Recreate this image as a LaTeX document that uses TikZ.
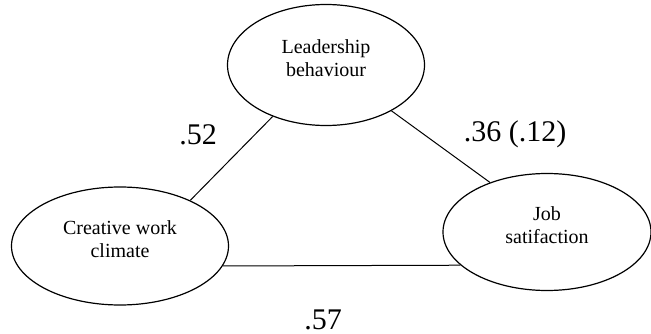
\documentclass[tikz,border=0pt]{standalone}
\usepackage{fontspec}
\setmainfont{Liberation Serif}
\usetikzlibrary{shapes.geometric}
\begin{document}
\begin{tikzpicture}[x=1pt,y=-1pt,
  construct/.style={draw, ellipse, line width=1.2pt, inner sep=0pt},
  inner/.style={font=\fontsize{20}{23}\selectfont, align=center, yshift=7pt},
  link/.style={line width=1pt},
  coef/.style={font=\fontsize{30}{34}\selectfont, anchor=base, inner sep=0pt}]
  \useasboundingbox (0,0) rectangle (651,334);

  % latent constructs
  \node[construct, minimum width=197pt, minimum height=121pt,
        label={[inner]center:Leadership\\behaviour}] (lead) at (326,65) {};
  \node[construct, minimum width=217pt, minimum height=118pt,
        label={[inner]center:Creative work\\climate}] (climate) at (120,246) {};
  \node[construct, minimum width=208pt, minimum height=117pt,
        label={[inner]center:Job\\satifaction}] (job) at (547,232) {};

  % correlations
  \draw[link] (climate.33) -- (lead.224);
  \draw[link] (lead.325) -- (job.139);
  \draw[link] (climate.349) -- (job.201);

  % coefficients
  \node[coef] (c1) at (198,145) {.52};
  \node[coef] (c2) at (515,142) {.36 (.12)};
  \node[coef] (c3) at (323,329) {.57};
\end{tikzpicture}
\end{document}
